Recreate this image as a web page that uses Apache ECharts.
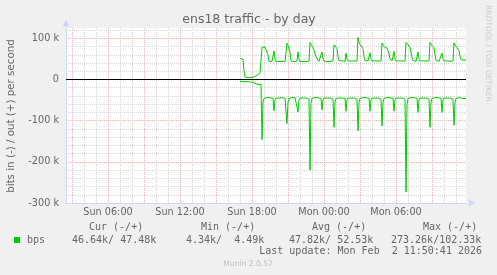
<!DOCTYPE html>
<html>
<head>
<meta charset="utf-8">
<script src="https://cdn.jsdelivr.net/npm/echarts@6/dist/echarts.min.js"></script>
<style>
html,body{margin:0;padding:0;background:#f0f0f0;}
#c{width:497px;height:275px;}
</style>
</head>
<body>
<div id="c"></div>
<script>
// ---------------- data ----------------
const chartTitle = 'ens18 traffic - by day';
const yAxisTitle = 'bits in (-) / out (+) per second';
const sideText = 'RRDTOOL / TOBI OETIKER';
const versionText = 'Munin 2.0.57';
const lastUpdate = 'Last update: Mon Feb  2 11:50:41 2026';

// minutes since Sun 00:00; one sample every 5 minutes
const axisStartMinute = 150;   // Sun 02:30
const axisEndMinute = 2150;    // Mon 11:50
const firstSampleMinute = 1020; // Sun 17:00
const sampleStepMinutes = 5;

// out (+), kbit/s
const outKbps = [
  51, 53, 50, 49, 20, 6, 5, 5, 4.5, 5, 5, 4.5,
  5, 4.49, 6, 8, 9, 10, 12, 14, 16, 18,
  78, 80, 80, 79, 80, 79, 60, 44, 44, 43, 44, 44,
  69, 50, 44, 43, 44, 44, 43, 44, 44, 43, 44, 43, 44,
  88, 83, 80, 67, 45, 44, 44, 43, 44, 44, 45,
  67, 50, 44, 44, 43, 44, 44, 44, 43, 44, 44, 45,
  90, 84, 80, 79, 72, 62, 55, 50, 46, 44, 44, 45,
  67, 52, 45, 44, 44, 43, 44, 44, 44, 43, 44, 45,
  84, 82, 80, 75, 55, 46, 44, 44, 45, 44, 44, 44,
  64, 50, 45, 44, 44, 45, 44, 44, 45, 44, 44, 45,
  102.33, 90, 85, 84, 82, 75, 55, 46, 45, 44, 45, 45,
  65, 50, 45, 45, 44, 45, 45, 44, 45, 45, 44, 45,
  88, 84, 80, 79, 77, 76, 70, 62, 50, 46, 45, 45,
  68, 51, 45, 44, 45, 45, 44, 45, 45, 44, 45, 45,
  90, 88, 84, 80, 78, 76, 55, 46, 45, 45, 44, 45,
  67, 50, 45, 45, 44, 45, 45, 44, 45, 45, 44, 45,
  90, 86, 82, 80, 77, 60, 46, 45, 45, 44, 45, 45,
  64, 50, 45, 45, 44, 45, 45, 45, 44, 45, 45, 45,
  89, 84, 80, 78, 77, 70, 56, 48, 46, 46, 47, 46, 47.48
];

// in (-), kbit/s (drawn below zero)
const inKbps = [
  4.34, 4.5, 4.6, 4.8, 5, 5, 5.2, 5.5, 5.5, 5.8, 6, 6,
  6.5, 7, 8, 9.5, 11, 11.5, 12, 12, 12.2, 13,
  146, 55, 46, 45, 45, 44, 45, 45, 44, 45, 45, 46,
  76, 50, 45, 45, 44, 45, 45, 45, 44, 45, 45, 46, 48,
  107, 55, 46, 45, 45, 44, 45, 45, 44, 45, 46,
  79, 50, 45, 45, 44, 45, 45, 44, 45, 45, 46, 48,
  220, 58, 46, 45, 45, 44, 45, 45, 44, 45, 45, 46,
  74, 50, 45, 45, 44, 45, 45, 44, 45, 45, 46, 48,
  116, 56, 46, 45, 44, 45, 45, 44, 45, 45, 45, 46,
  77, 50, 45, 44, 45, 45, 44, 45, 45, 45, 46, 48,
  125, 56, 46, 45, 45, 44, 45, 45, 44, 45, 45, 46,
  77, 50, 45, 45, 44, 45, 45, 44, 45, 45, 46, 48,
  113, 56, 46, 45, 45, 44, 45, 45, 44, 45, 45, 46,
  77, 50, 45, 45, 44, 45, 45, 44, 45, 45, 46, 48,
  273.26, 60, 46, 45, 45, 44, 45, 45, 44, 45, 45, 46,
  80, 50, 45, 45, 44, 45, 45, 44, 45, 45, 46, 48,
  116, 56, 46, 45, 45, 44, 45, 45, 44, 45, 45, 46,
  80, 50, 45, 45, 44, 45, 45, 44, 45, 45, 46, 48,
  111, 56, 46, 45, 45, 44, 45, 45, 46, 46, 46, 46.5, 46.64
];

const xTickMinutes = [360, 720, 1080, 1440, 1800];
const xTickLabels = ['Sun 06:00', 'Sun 12:00', 'Sun 18:00', 'Mon 00:00', 'Mon 06:00'];
const yTickValues = [100, 0, -100, -200, -300];
const yTickLabels = ['100 k', '0', '-100 k', '-200 k', '-300 k'];

const legendName = 'bps';
const legendHeaders = ['Cur (-/+)', 'Min (-/+)', 'Avg (-/+)', 'Max (-/+)'];
const legendValues = ['46.64k/ 47.48k', '4.34k/  4.49k', '47.82k/ 52.53k', '273.26k/102.33k'];

// ---------------- styling / layout ----------------
const GREEN = '#00cc00';
const FONT_COL = '#666666';
const AXIS_COL = '#cfd6f8';
const GRID_COL = '#d6d6d6';
const MGRID_COL = '#ebb4b4';
const NONE = 'rgba(0,0,0,0)';
const SANS = '"DejaVu Sans", sans-serif';
const MONO = '"DejaVu Sans Mono", monospace';

const headerX = [89, 201, 312, 423];
const valueX = [72, 186, 289, 391];

// x split lines: one tick every 5 min; hour lines gray, 3-hour lines red
const xGridColors = [];
for (let k = 0; k < 36; k++) {
  const m = axisStartMinute + k * sampleStepMinutes;
  xGridColors.push(m % 180 === 0 ? MGRID_COL : (m % 60 === 0 ? GRID_COL : NONE));
}
const yGridColors = [MGRID_COL, GRID_COL, GRID_COL, GRID_COL, GRID_COL];

const outData = outKbps.map((v, i) => [firstSampleMinute + i * sampleStepMinutes, v]);
const inData = inKbps.map((v, i) => [firstSampleMinute + i * sampleStepMinutes, -v]);

function txt(text, x, y, font, fill, align, extra) {
  return Object.assign({
    type: 'text', x: x, y: y, silent: true,
    style: {
      text: text, font: font, fill: fill,
      align: align, verticalAlign: 'middle',
      textAlign: align, textVerticalAlign: 'middle'
    }
  }, extra || {});
}

const graphics = [
  txt(chartTitle, 249, 19.5, '12.5px ' + SANS, FONT_COL, 'center'),
  txt(yAxisTitle, 11.5, 116, '10.3px ' + SANS, FONT_COL, 'center', { rotation: Math.PI / 2 }),
  txt(sideText, 488, 53.5, '7.5px ' + SANS, '#cccccc', 'center', { rotation: -Math.PI / 2 }),
  txt(versionText, 248, 264, '7.6px ' + SANS, '#c0c0c0', 'center'),
  txt(lastUpdate, 482, 251.7, '10px ' + MONO, FONT_COL, 'right'),
  txt(legendName, 27, 240, '10px ' + MONO, FONT_COL, 'left'),
  { type: 'rect', shape: { x: 14, y: 237, width: 6, height: 6 }, style: { fill: GREEN }, silent: true }
];
legendHeaders.forEach((h, k) => graphics.push(txt(h, headerX[k], 227.5, '10px ' + MONO, FONT_COL, 'left')));
legendValues.forEach((v, k) => graphics.push(txt(v, valueX[k], 240, '10px ' + MONO, FONT_COL, 'left')));

const chart = echarts.init(document.getElementById('c'), null, { renderer: 'canvas' });
chart.setOption({
  animation: false,
  backgroundColor: '#f0f0f0',
  grid: { left: 66, width: 400, top: 28, height: 175, show: true, backgroundColor: '#ffffff', borderWidth: 0, containLabel: false },
  xAxis: {
    type: 'value', min: axisStartMinute, max: axisEndMinute, interval: sampleStepMinutes,
    axisLine: { show: true, onZero: false, lineStyle: { color: AXIS_COL, width: 1 },
      symbol: ['none', 'triangle'], symbolSize: [7, 7], symbolOffset: [0, 6] },
    axisTick: { show: false },
    axisLabel: {
      color: FONT_COL, fontSize: 9.7, fontFamily: SANS, margin: 4,
      formatter: v => { const k = xTickMinutes.indexOf(Math.round(v)); return k >= 0 ? xTickLabels[k] : ''; }
    },
    splitLine: { show: true, lineStyle: { color: xGridColors, width: 1, type: [1, 1] } }
  },
  yAxis: {
    type: 'value', min: -300, max: 125, interval: 20,
    axisLine: { show: true, onZero: false, lineStyle: { color: AXIS_COL, width: 1 },
      symbol: ['none', 'triangle'], symbolSize: [7, 7], symbolOffset: [0, 5] },
    axisTick: { show: false },
    axisLabel: {
      color: FONT_COL, fontSize: 9.7, fontFamily: SANS, margin: 7,
      formatter: v => { const k = yTickValues.indexOf(Math.round(v)); return k >= 0 ? yTickLabels[k] : ''; }
    },
    splitLine: { show: true, showMaxLine: false, lineStyle: { color: yGridColors, width: 1, type: [1, 1] } }
  },
  series: [
    {
      name: 'out', type: 'line', data: outData, showSymbol: false, symbol: 'none',
      lineStyle: { color: GREEN, width: 1 }, itemStyle: { color: GREEN }, z: 3,
      markLine: {
        silent: true, symbol: 'none', label: { show: false }, animation: false,
        lineStyle: { color: '#000000', type: 'solid', width: 1 },
        data: [{ yAxis: 0 }]
      }
    },
    {
      name: 'in', type: 'line', data: inData, showSymbol: false, symbol: 'none',
      lineStyle: { color: GREEN, width: 1 }, itemStyle: { color: GREEN }, z: 3
    }
  ],
  graphic: graphics
});
</script>
</body>
</html>
